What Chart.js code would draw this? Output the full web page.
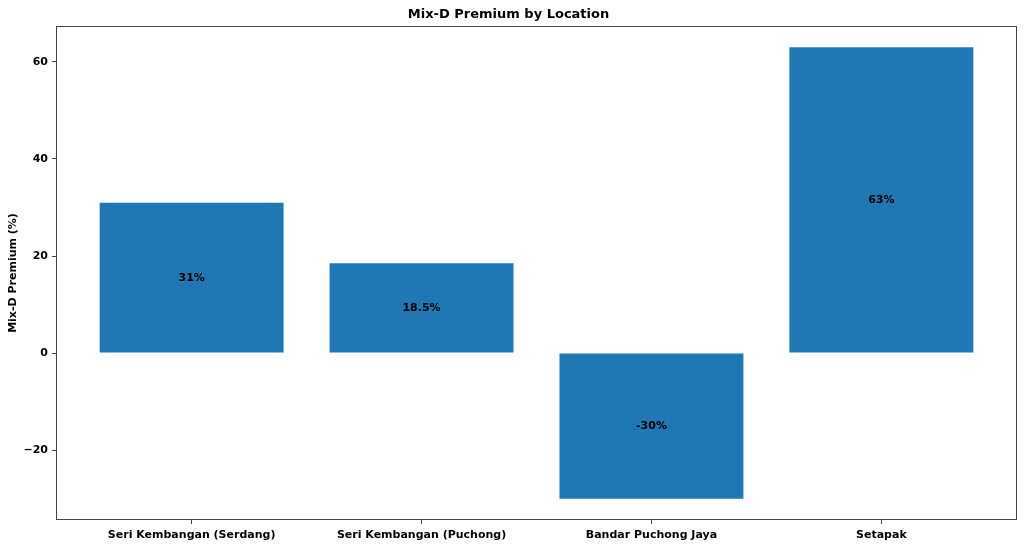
<!DOCTYPE html>
<html>
<head>
<meta charset="utf-8">
<script src="https://cdn.jsdelivr.net/npm/chart.js@4.4.1/dist/chart.umd.min.js"></script>
<style>
  html, body { margin: 0; padding: 0; background: #fff; }
  #wrap { width: 1024px; height: 548px; }
</style>
</head>
<body>
<div id="wrap"><canvas id="grafico"></canvas></div>
<script>
const locais = ['Seri Kembangan (Serdang)', 'Seri Kembangan (Puchong)', 'Bandar Puchong Jaya', 'Setapak'];
const premio = [31, 18.5, -30, 63];
const rotulos = ['31%', '18.5%', '-30%', '63%'];
const yTicks = [-20, 0, 20, 40, 60];

const fonte = 'DejaVu Sans';

// moldura do eixo + rotulos dentro das barras
const extras = {
  id: 'extras',
  afterDatasetsDraw(chart) {
    const { ctx, chartArea: a } = chart;
    const meta = chart.getDatasetMeta(0);
    ctx.save();
    ctx.font = 'bold 11px "' + fonte + '"';
    ctx.fillStyle = '#000';
    ctx.textAlign = 'center';
    ctx.textBaseline = 'middle';
    const y0 = chart.scales.y.getPixelForValue(0);
    meta.data.forEach((bar, i) => {
      ctx.fillText(rotulos[i], bar.x, (bar.y + y0) / 2);
    });
    ctx.strokeStyle = '#444';
    ctx.lineWidth = 1;
    ctx.strokeRect(a.left + 0.5, a.top + 0.5, a.right - a.left - 1, a.bottom - a.top - 1);
    ctx.restore();
  }
};

const config = {
  type: 'bar',
  data: {
    datasets: [{
      data: premio.map((v, i) => ({ x: i, y: v })),
      backgroundColor: '#1f77b4',
      barPercentage: 1,
      categoryPercentage: 0.8
    }]
  },
  options: {
    responsive: true,
    maintainAspectRatio: false,
    animation: false,
    layout: { padding: { right: 7, left: 0, top: 0, bottom: 0 } },
    plugins: {
      legend: { display: false },
      tooltip: { enabled: false },
      title: {
        display: true,
        text: 'Mix-D Premium by Location',
        color: '#000',
        font: { family: fonte, size: 13, weight: 'bold', lineHeight: 1.2 },
        padding: { top: 7, bottom: 3.4 }
      }
    },
    scales: {
      x: {
        type: 'linear',
        min: -0.59,
        max: 3.59,
        offset: false,
        afterBuildTicks: (s) => { s.ticks = locais.map((_, i) => ({ value: i })); },
        afterFit: (s) => { s.height = 28; },
        grid: { offset: false, drawOnChartArea: false, drawTicks: true, tickLength: 4, tickColor: '#444' },
        border: { display: false },
        ticks: {
          color: '#000',
          padding: 5,
          maxRotation: 0,
          autoSkip: false,
          font: { family: fonte, size: 11, weight: 'bold' },
          callback: (v) => locais[v]
        }
      },
      y: {
        min: -34.4,
        max: 67.4,
        afterBuildTicks: (s) => { s.ticks = yTicks.map(v => ({ value: v })); },
        afterFit: (s) => { s.width = 56; },
        grid: { drawOnChartArea: false, drawTicks: true, tickLength: 4, tickColor: '#444' },
        border: { display: false },
        title: {
          display: true,
          text: 'Mix-D Premium (%)',
          color: '#000',
          font: { family: fonte, size: 11, weight: 'bold' },
          padding: { top: 6.5, bottom: 0 }
        },
        ticks: {
          color: '#000',
          padding: 4,
          font: { family: fonte, size: 11, weight: 'bold' },
          callback: (v) => (v < 0 ? '\u2212' + Math.abs(v) : String(v))
        }
      }
    }
  },
  plugins: [extras]
};

const ctx = document.getElementById('grafico').getContext('2d');
new Chart(ctx, config);
</script>
</body>
</html>
